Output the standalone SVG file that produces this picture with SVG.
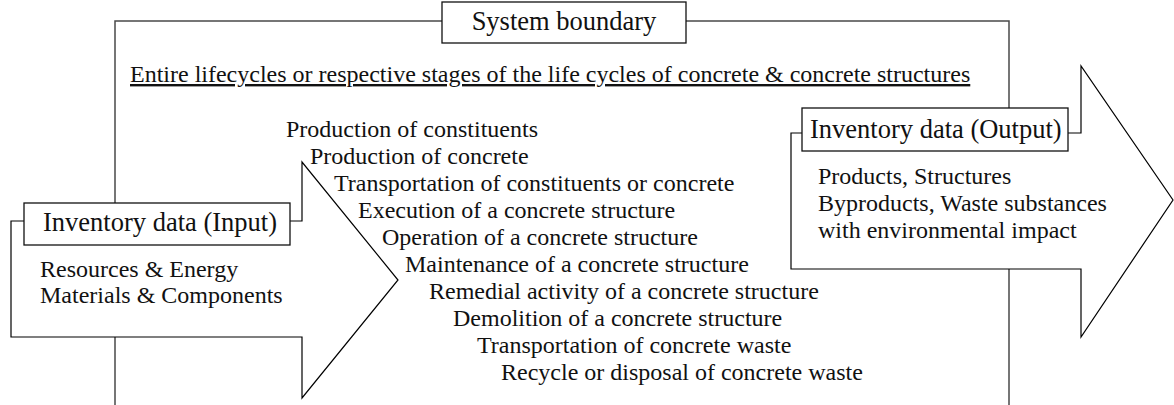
<svg xmlns="http://www.w3.org/2000/svg" width="1174" height="405" viewBox="0 0 1174 405">
<style>
.bd{fill:none;stroke:#4a4a4a;stroke-width:1.5}
.ar{fill:#fff;stroke:#000;stroke-width:1.2;stroke-linejoin:miter}
.bx{fill:#fff;stroke:#111;stroke-width:1.3}
text{font-family:"Liberation Serif","Times New Roman",serif;fill:#111}
.h{font-size:26.5px}
.t{font-size:24px}
</style>
<rect width="1174" height="405" fill="#fff"/>
<g id="system-boundary">
<path class="bd" d="M115 405V21H1009V405"/>
</g>
<g id="system-boundary-label">
<rect class="bx" x="442" y="2" width="244" height="41"/>
<text class="h" x="564" y="30" text-anchor="middle">System boundary</text>
</g>
<g id="scope">
<text class="t" x="130" y="82" text-decoration="underline">Entire lifecycles or respective stages of the life cycles of concrete &amp; concrete structures</text>
</g>
<g id="input">
<path class="ar" d="M24 221H11V337H302V398L398 280L302 162V221H290"/>
<rect class="bx" x="24" y="203" width="266" height="42"/>
<text class="h" x="43" y="231">Inventory data (Input)</text>
<text class="t" x="40" y="277">Resources &amp; Energy</text>
<text class="t" x="40" y="303">Materials &amp; Components</text>
</g>
<g id="output">
<path class="ar" d="M802 133H791V269H1081V337L1173 200L1081 66V133H1068"/>
<rect class="bx" x="802" y="108" width="266" height="43"/>
<text class="h" x="810" y="138">Inventory data (Output)</text>
<text class="t" x="818" y="184">Products, Structures</text>
<text class="t" x="818" y="211">Byproducts, Waste substances</text>
<text class="t" x="818" y="238">with environmental impact</text>
</g>
<g id="stages">
<text class="t" x="286" y="137">Production of constituents</text>
<text class="t" x="310" y="164">Production of concrete</text>
<text class="t" x="334" y="191">Transportation of constituents or concrete</text>
<text class="t" x="358" y="218">Execution of a concrete structure</text>
<text class="t" x="382" y="245">Operation of a concrete structure</text>
<text class="t" x="405" y="272">Maintenance of a concrete structure</text>
<text class="t" x="429" y="299">Remedial activity of a concrete structure</text>
<text class="t" x="453" y="326">Demolition of a concrete structure</text>
<text class="t" x="477" y="353">Transportation of concrete waste</text>
<text class="t" x="501" y="380">Recycle or disposal of concrete waste</text>
</g>
<g id="connectors"/>
</svg>
